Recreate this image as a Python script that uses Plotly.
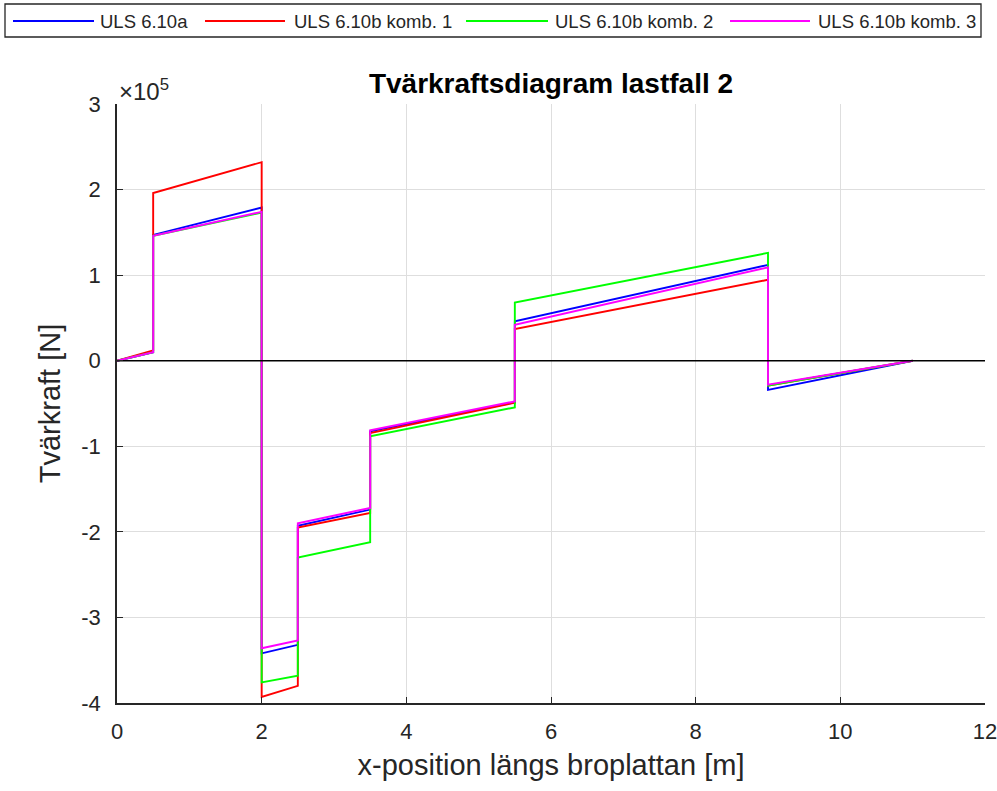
import plotly.graph_objects as go

# x-positioner längs broplattan [m] (dubbla punkter vid sprången)
x_pos = [0, 0.5, 0.5, 2, 2, 2.5, 2.5, 3.5, 3.5, 5.5, 5.5, 9, 9, 11]

# tvärkraft [N]
v_610a = [0, 0.10e5, 1.47e5, 1.79e5, -3.42e5, -3.32e5, -1.93e5, -1.74e5,
          -0.826e5, -0.487e5, 0.46e5, 1.12e5, -0.34e5, 0]
v_610b_k1 = [0, 0.12e5, 1.96e5, 2.32e5, -3.93e5, -3.80e5, -1.95e5, -1.78e5,
             -0.845e5, -0.49e5, 0.37e5, 0.946e5, -0.29e5, 0]
v_610b_k2 = [0, 0.10e5, 1.46e5, 1.73e5, -3.76e5, -3.68e5, -2.30e5, -2.12e5,
             -0.884e5, -0.545e5, 0.68e5, 1.26e5, -0.29e5, 0]
v_610b_k3 = [0, 0.10e5, 1.46e5, 1.74e5, -3.36e5, -3.27e5, -1.90e5, -1.72e5,
             -0.814e5, -0.475e5, 0.42e5, 1.09e5, -0.28e5, 0]

names = ["ULS 6.10a", "ULS 6.10b komb. 1", "ULS 6.10b komb. 2", "ULS 6.10b komb. 3"]
colors = ["#0000ff", "#ff0000", "#00ff00", "#ff00ff"]
series = [v_610a, v_610b_k1, v_610b_k2, v_610b_k3]

# nollinje
zero_x = [0, 12]
zero_y = [0, 0]

y_ticks = [-4e5, -3e5, -2e5, -1e5, 0, 1e5, 2e5, 3e5]
y_ticktext = ["-4", "-3", "-2", "-1", "0", "1", "2", "3"]

W, H = 997, 791
L, R, T, B = 117, 12, 104, 88
pw, ph = W - L - R, H - T - B


def px(x):
    return (x - L) / pw


def py(y):
    return (H - B - y) / ph


txt = "#262626"
font = "Liberation Sans, Arial, sans-serif"

fig = go.Figure()
for name, col, v in zip(names, colors, series):
    fig.add_trace(go.Scatter(x=x_pos, y=v, mode="lines", name=name,
                             line=dict(color=col, width=1.9), showlegend=False))
fig.add_trace(go.Scatter(x=zero_x, y=zero_y, mode="lines",
                         line=dict(color="black", width=1.6), showlegend=False))

# legend, ritad för hand (längre linjer som i MATLAB)
leg_line = [(13, 94), (205, 285), (466, 548), (730, 810)]
leg_text = [98, 292, 553, 816]
leg_y = 21
shapes = [dict(type="rect", xref="paper", yref="paper",
               x0=px(5), x1=px(981), y0=py(37), y1=py(4),
               line=dict(color=txt, width=1.3), fillcolor="white")]
annots = []
for (a, b), tx, name, col in zip(leg_line, leg_text, names, colors):
    shapes.append(dict(type="line", xref="paper", yref="paper",
                       x0=px(a), x1=px(b), y0=py(leg_y), y1=py(leg_y),
                       line=dict(color=col, width=2)))
    annots.append(dict(xref="paper", yref="paper", x=px(tx), y=py(leg_y),
                       xanchor="left", yanchor="middle", text=name, showarrow=False,
                       font=dict(size=18.5, color=txt, family=font)))

annots.append(dict(xref="paper", yref="paper", x=0, y=py(90), xanchor="left",
                   yanchor="middle", text="×10<sup>5</sup>", showarrow=False,
                   font=dict(size=24, color=txt, family=font)))

fig.update_layout(
    width=W, height=H,
    margin=dict(l=L, r=R, t=T, b=B, autoexpand=False),
    plot_bgcolor="white", paper_bgcolor="white",
    font=dict(family=font, color=txt, size=22),
    title=dict(text="<b>Tvärkraftsdiagram lastfall 2</b>", x=551 / W, xanchor="center",
               y=1 - 83 / H, yanchor="middle", font=dict(size=28, color="black")),
    shapes=shapes, annotations=annots,
)
fig.update_xaxes(range=[0, 12], dtick=2, tick0=0, showgrid=True, gridcolor="#dedede",
                 gridwidth=1, showline=True, linecolor=txt, linewidth=1.5,
                 ticks="inside", ticklen=6, tickcolor=txt, zeroline=False,
                 ticklabelstandoff=8, ticklabeloverflow="allow", automargin=False,
                 title=dict(text="x-position längs broplattan [m]", font=dict(size=29), standoff=12))
fig.update_yaxes(range=[-4e5, 3e5], tickvals=y_ticks, ticktext=y_ticktext,
                 showgrid=True, gridcolor="#dedede", gridwidth=1, showline=True,
                 linecolor=txt, linewidth=1.5, ticks="inside", ticklen=6, tickcolor=txt,
                 zeroline=False, ticklabelstandoff=10, automargin=False,
                 title=dict(text="Tvärkraft [N]", font=dict(size=29), standoff=12))

# sidans standardmarginal bort så att figuren ligger kant i kant
fig.write_html("out.html", config={"displayModeBar": False},
               post_script="document.body.style.margin='0';")
